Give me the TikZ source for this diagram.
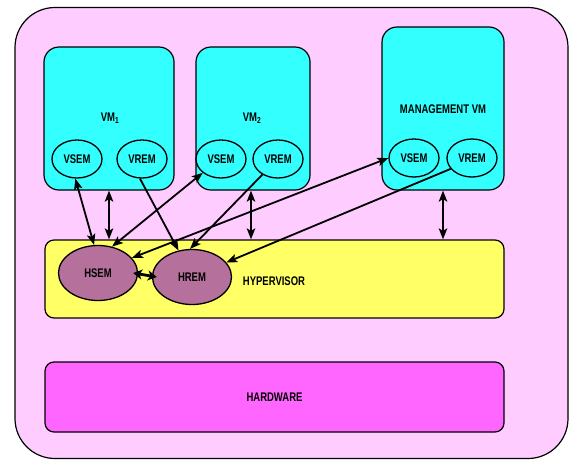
\documentclass[tikz,border=0pt]{standalone}
\usepackage{fontspec}
\setmainfont{Liberation Sans}
\newfontfamily\lblfont[FakeStretch=0.76]{Liberation Sans}
\usetikzlibrary{shapes.geometric,arrows.meta}
\definecolor{outerpink}{HTML}{FFCCFF}
\definecolor{vmcyan}{HTML}{33FFFF}
\definecolor{hypyellow}{HTML}{FFFF66}
\definecolor{hwmag}{HTML}{FF66FF}
\definecolor{mauve}{HTML}{B5709B}
\begin{document}
\begin{tikzpicture}[x=1pt,y=-1pt,
  box/.style={draw=black,line width=1.2pt,rectangle,inner sep=0pt},
  vmbox/.style={box,fill=vmcyan,rounded corners=15pt,minimum height=143pt},
  lbl/.style={font=\lblfont\bfseries\fontsize{12.5}{14}\selectfont,inner sep=0pt},
  oval/.style={draw=black,line width=1.3pt,ellipse,inner sep=0pt,minimum width=50pt,minimum height=38pt,fill=vmcyan,lbl},
  hoval/.style={draw=black,line width=1.3pt,ellipse,inner sep=0pt,minimum width=79pt,minimum height=55pt,fill=mauve,lbl},
  arr/.style={line width=1.8pt,-{Stealth[length=11pt,width=8.5pt,inset=2.5pt]}},
  dbl/.style={line width=1.8pt,{Stealth[length=11pt,width=8.5pt,inset=2.5pt]}-{Stealth[length=11pt,width=8.5pt,inset=2.5pt]}}
]
\useasboundingbox (0,0) rectangle (572,461);
% outer host
\node[box,fill=outerpink,rounded corners=40pt,minimum width=553pt,minimum height=451pt] (host) at (291.5,233) {};
% VMs
\node[vmbox,minimum width=130pt] (vm1) at (109,118.5) {};
\node[vmbox,minimum width=114pt] (vm2) at (253,118.5) {};
\node[vmbox,minimum width=122pt,minimum height=163pt] (mvm) at (443,108.5) {};
\node[lbl] (vm1l) at (110,118) {VM\textsubscript{1}};
\node[lbl] (vm2l) at (252,118) {VM\textsubscript{2}};
\node[lbl] (mvml) at (443,109) {MANAGEMENT VM};
% VM ellipses
\node[oval] (v1s) at (77,159) {VSEM};
\node[oval] (v1r) at (142,159) {VREM};
\node[oval] (v2s) at (221,159) {VSEM};
\node[oval] (v2r) at (278,159) {VREM};
\node[oval] (ms) at (414,158) {VSEM};
\node[oval] (mr) at (472,158) {VREM};
% hypervisor
\node[box,fill=hypyellow,rounded corners=9pt,minimum width=459pt,minimum height=78pt] (hyp) at (274.5,279) {};
\node[lbl] (hypl) at (274,281) {HYPERVISOR};
\node[hoval] (hsem) at (98,273) {HSEM};
\node[hoval] (hrem) at (192,277) {HREM};
% hardware
\node[box,fill=hwmag,rounded corners=9pt,minimum width=459pt,minimum height=70pt,lbl] (hw) at (274.5,397) {HARDWARE};
% helper columns
\coordinate (c1) at (109,0);
\coordinate (c2) at (251,0);
\coordinate (c3) at (443,0);
% connectors
\draw[dbl] (v1s.265) -- (hsem.98);
\draw[dbl] (vm1.south -| c1) -- (hyp.north -| c1);
\draw[arr] (v1r.264) -- (hrem.117);
\draw[dbl] (hsem.62) -- (v2s.217);
\draw[arr] (v2r.225) -- (hrem.94);
\draw[dbl] (vm2.south -| c2) -- (hyp.north -| c2);
\draw[dbl] (hsem.24) -- (ms.180);
\draw[arr] (mr.207) -- (hrem.23);
\draw[dbl] (mvm.south -| c3) -- (hyp.north -| c3);
\draw[line width=2.8pt,{Stealth[length=9pt,width=10pt,inset=2.5pt]}-{Stealth[length=9pt,width=10pt,inset=2.5pt]}] ([xshift=-5pt]hsem.east) -- ([xshift=5pt]hrem.west);
\end{tikzpicture}
\end{document}
